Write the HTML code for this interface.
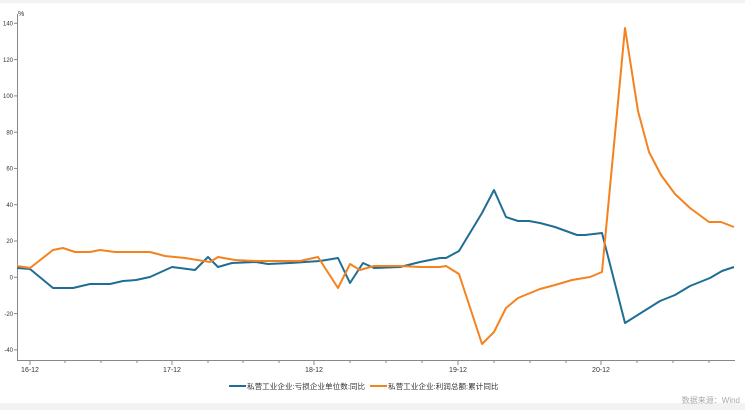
<!DOCTYPE html>
<html><head><meta charset="utf-8"><style>
body{margin:0;background:#fff;}
svg{display:block;font-family:"Liberation Sans","Noto Sans CJK SC",sans-serif;}
</style></head><body>
<svg width="745" height="410" xmlns="http://www.w3.org/2000/svg">
<rect x="0" y="0" width="745" height="3" fill="#f2f2f2"/>
<rect x="0" y="403" width="745" height="7" fill="#f2f2f2"/>
<g stroke="#888" stroke-width="1" fill="none">
<line x1="17.5" y1="14" x2="17.5" y2="361"/>
<line x1="17" y1="360.5" x2="735" y2="360.5"/>
<line x1="14" y1="23.3" x2="17" y2="23.3"/>
<line x1="14" y1="59.6" x2="17" y2="59.6"/>
<line x1="14" y1="95.9" x2="17" y2="95.9"/>
<line x1="14" y1="132.2" x2="17" y2="132.2"/>
<line x1="14" y1="168.4" x2="17" y2="168.4"/>
<line x1="14" y1="204.7" x2="17" y2="204.7"/>
<line x1="14" y1="241" x2="17" y2="241"/>
<line x1="14" y1="277.3" x2="17" y2="277.3"/>
<line x1="14" y1="313.6" x2="17" y2="313.6"/>
<line x1="14" y1="349.9" x2="17" y2="349.9"/>
<line x1="30" y1="361" x2="30" y2="365"/>
<line x1="65" y1="361" x2="65" y2="363"/>
<line x1="101" y1="361" x2="101" y2="363"/>
<line x1="137" y1="361" x2="137" y2="363"/>
<line x1="172" y1="361" x2="172" y2="365"/>
<line x1="208" y1="361" x2="208" y2="363"/>
<line x1="243" y1="361" x2="243" y2="363"/>
<line x1="279" y1="361" x2="279" y2="363"/>
<line x1="314" y1="361" x2="314" y2="365"/>
<line x1="350" y1="361" x2="350" y2="363"/>
<line x1="386" y1="361" x2="386" y2="363"/>
<line x1="422" y1="361" x2="422" y2="363"/>
<line x1="458" y1="361" x2="458" y2="365"/>
<line x1="494" y1="361" x2="494" y2="363"/>
<line x1="530" y1="361" x2="530" y2="363"/>
<line x1="566" y1="361" x2="566" y2="363"/>
<line x1="601" y1="361" x2="601" y2="365"/>
<line x1="637" y1="361" x2="637" y2="363"/>
<line x1="673" y1="361" x2="673" y2="363"/>
<line x1="709" y1="361" x2="709" y2="363"/>
</g>
<g font-size="6" fill="#333" text-anchor="end">
<text x="13" y="25.5">140</text><text x="13" y="62">120</text><text x="13" y="98">100</text>
<text x="13" y="134.5">80</text><text x="13" y="170.5">60</text><text x="13" y="207">40</text>
<text x="13" y="243">20</text><text x="13" y="279.5">0</text><text x="13" y="316">-20</text><text x="13" y="352">-40</text>
</g>
<text x="18" y="16" font-size="7" fill="#333">%</text>
<g font-size="7" fill="#333" text-anchor="middle">
<text x="30" y="372">16-12</text><text x="172" y="372">17-12</text><text x="314" y="372">18-12</text>
<text x="458" y="372">19-12</text><text x="601" y="372">20-12</text>
</g>
<polyline fill="none" stroke="#1f6e96" stroke-width="2" stroke-linejoin="round" points="17,268 30,269 53,288 73,288 90,284 110,284 123,281 136,280 150,277 172,267 195,270 208,257 218,267 232,263 256,262 268,264 290,263 305,262 320,261 338,258 350,283 363,263 374,268 400,267 420,262 440,258 446,258 459,251 482,213 494,190 506,217 518,221 529,221 540,223 555,227 577,235 585,235 602,233 625,323 660,301 675,295 690,286 710,278 722,271 734,267"/>
<polyline fill="none" stroke="#f5821f" stroke-width="2" stroke-linejoin="round" points="17,266 30,268 53,250 63,248 75,252 90,252 100,250 115,252 136,252 150,252 165,256 185,258 210,262 218,257 235,260 256,261 275,261 300,261 318,257 338,288 350,264 360,270 374,266 400,266 420,267 440,267 446,266 459,274 482,344 494,332 506,308 518,298 540,289 555,285 572,280 590,277 602,272 625,28 638,111 649,152 661,175 675,194 690,208 709,222 721,222 734,227"/>
<line x1="229" y1="386" x2="246" y2="386" stroke="#1f6e96" stroke-width="2"/>
<text x="247" y="389" font-size="7.6" fill="#333">私营工业企业:亏损企业单位数:同比</text>
<line x1="370" y1="386" x2="387" y2="386" stroke="#f5821f" stroke-width="2"/>
<text x="388" y="389" font-size="7.6" fill="#333">私营工业企业:利润总额:累计同比</text>
<text x="740" y="403" font-size="8" fill="#aaa" text-anchor="end">数据来源：Wind</text>
</svg>
</body></html>
